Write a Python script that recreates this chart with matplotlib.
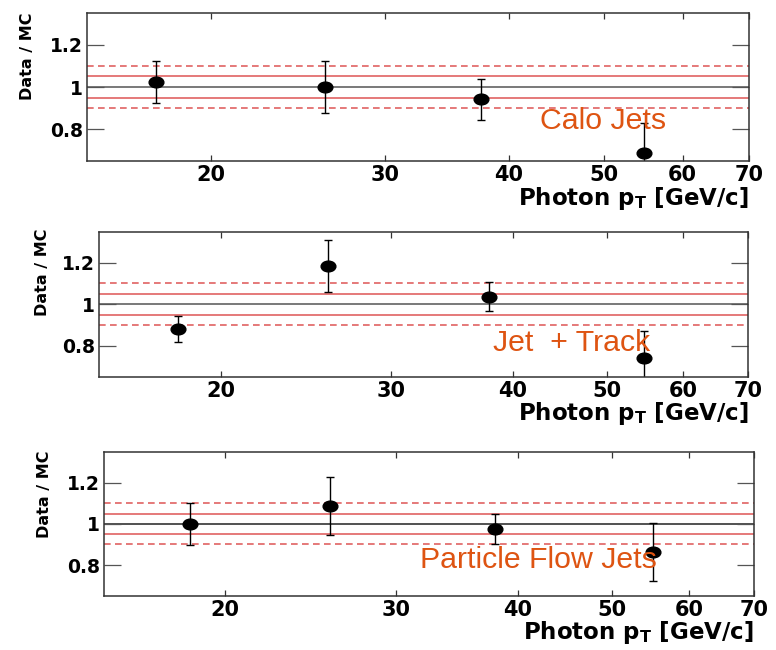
"""Data/MC ratio vs photon pT for three jet reconstruction schemes."""

from __future__ import annotations

import matplotlib

matplotlib.use("Agg")
import matplotlib.pyplot as plt
from matplotlib import ticker
from matplotlib.path import Path
from matplotlib.transforms import Affine2D

# Calo jets
calo_pt = [17.6, 26.1, 37.5, 54.8]
calo_ratio = [1.023, 1.000, 0.942, 0.688]
calo_err = [0.098, 0.121, 0.097, 0.140]

# Jet + track
track_pt = [18.1, 25.8, 37.8, 54.6]
track_ratio = [0.880, 1.184, 1.037, 0.739]
track_err = [0.063, 0.124, 0.072, 0.131]

# Particle flow jets
pf_pt = [18.4, 25.6, 37.9, 55.1]
pf_ratio = [0.997, 1.088, 0.976, 0.864]
pf_err = [0.102, 0.140, 0.074, 0.139]

band_solid = [0.95, 1.05]
band_dashed = [0.90, 1.10]
x_ticks = [20, 30, 40, 50, 60, 70]
y_ticks = [0.8, 1.0, 1.2]
y_tick_labels = ["0.8", "1", "1.2"]

RED = "#e06262"
ORANGE = "#de5412"
AXIS = "#333333"

# slightly wide ellipse, like the original canvas markers
DOT = Path.unit_circle().transformed(Affine2D().scale(1.37, 1.0))


def _draw_panel(fig, rect, pt, ratio, err, tag, tag_pos, ylabel_pos, unity="#555555"):
    ax = fig.add_axes(rect)
    ax.set_xscale("log")
    ax.set_xlim(15, 70)
    ax.set_ylim(0.65, 1.35)

    ax.axhline(1.0, color=unity, lw=1.1, zorder=1)
    for level in band_solid:
        ax.axhline(level, color=RED, lw=1.2, zorder=1)
    for level in band_dashed:
        ax.axhline(level, color=RED, lw=1.2, dashes=(4, 2.6), zorder=1)

    ax.errorbar(pt, ratio, yerr=err, fmt="none", ecolor="black", elinewidth=1.0,
                capsize=2.8, capthick=1.0, zorder=2)
    ax.plot(pt, ratio, linestyle="none", marker=DOT, markersize=10.6,
            color="black", zorder=3)

    ax.xaxis.set_major_locator(ticker.FixedLocator(x_ticks))
    ax.xaxis.set_major_formatter(ticker.FixedFormatter([str(t) for t in x_ticks]))
    ax.xaxis.set_minor_locator(ticker.NullLocator())
    ax.set_yticks(y_ticks)
    ax.set_yticklabels(y_tick_labels)
    ax.yaxis.set_minor_locator(ticker.NullLocator())

    ax.tick_params(axis="x", direction="in", top=True, length=4, width=0.9,
                   color=AXIS, pad=3, labelsize=15)
    ax.tick_params(axis="y", direction="in", right=True, length=12, width=0.9,
                   color="#555555", pad=3, labelsize=13.5)
    for label in ax.get_xticklabels() + ax.get_yticklabels():
        label.set_fontweight("bold")
    for spine in ax.spines.values():
        spine.set_color(AXIS)
        spine.set_linewidth(1.1)

    ax.text(1.0, -0.30, r"Photon $\mathbf{p}_\mathbf{T}$ [GeV/c]", transform=ax.transAxes,
            ha="right", va="baseline", fontsize=16.5, fontweight="bold")
    ax.text(tag_pos[0], tag_pos[1], tag, transform=ax.transAxes, ha="left", va="center",
            fontsize=21.8, color=ORANGE, family="Liberation Sans", zorder=5)
    fig.text(ylabel_pos[0], ylabel_pos[1], "Data / MC", rotation=90, ha="center", va="top",
             fontsize=11.5, fontweight="bold")
    return ax


def main() -> None:
    plt.rcParams["font.family"] = "DejaVu Sans"
    plt.rcParams["mathtext.fontset"] = "dejavusans"

    fig = plt.figure(figsize=(7.76, 6.5), dpi=100)
    fig.patch.set_facecolor("white")

    _draw_panel(fig, [0.1121, 0.7523, 0.8531, 0.2277], calo_pt, calo_ratio, calo_err,
                "Calo Jets", (0.685, 0.27), (28 / 776, 1 - 12 / 650))
    _draw_panel(fig, [0.1280, 0.4205, 0.8363, 0.2231], track_pt, track_ratio, track_err,
                "Jet  + Track", (0.607, 0.232), (42 / 776, 1 - 229 / 650))
    _draw_panel(fig, [0.1340, 0.0831, 0.8376, 0.2220], pf_pt, pf_ratio, pf_err,
                "Particle Flow Jets", (0.486, 0.249), (45 / 776, 1 - 451 / 650),
                unity="#222222")

    fig.savefig("out.png", dpi=100, facecolor=fig.get_facecolor())
    plt.close(fig)


if __name__ == "__main__":
    main()
